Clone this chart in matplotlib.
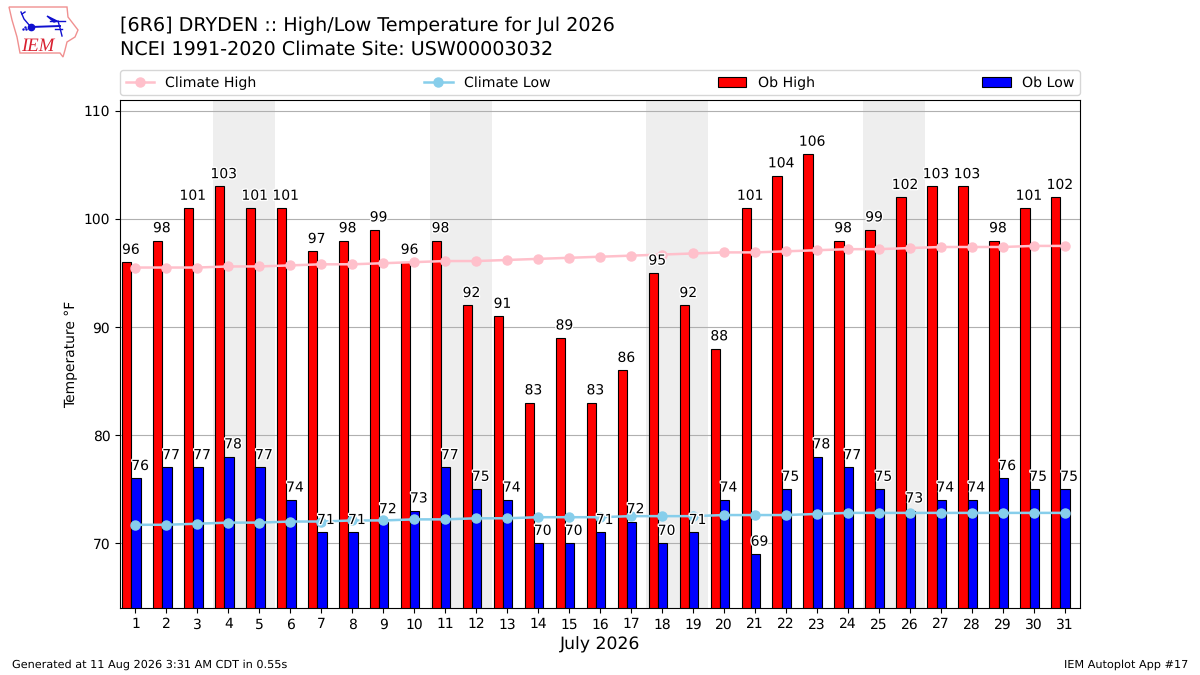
import numpy as np
import matplotlib
matplotlib.use("Agg")
import matplotlib.pyplot as plt
import matplotlib.patheffects as pe
from matplotlib.patches import Polygon

plt.rcParams["text.hinting"] = "none"

days = np.arange(1, 32)
ob_high = [96, 98, 101, 103, 101, 101, 97, 98, 99, 96, 98, 92, 91, 83, 89, 83,
           86, 95, 92, 88, 101, 104, 106, 98, 99, 102, 103, 103, 98, 101, 102]
ob_low = [76, 77, 77, 78, 77, 74, 71, 71, 72, 73, 77, 75, 74, 70, 70, 71,
          72, 70, 71, 74, 69, 75, 78, 77, 75, 73, 74, 74, 76, 75, 75]
climate_high = [95.5, 95.5, 95.5, 95.6, 95.6, 95.7, 95.8, 95.8, 95.9, 96.0, 96.1,
                96.1, 96.2, 96.3, 96.4, 96.5, 96.6, 96.7, 96.8, 96.9, 96.9, 97.0,
                97.1, 97.2, 97.2, 97.3, 97.4, 97.4, 97.4, 97.5, 97.5]
climate_low = [71.7, 71.7, 71.8, 71.9, 71.9, 72.0, 72.0, 72.1, 72.1, 72.2, 72.2,
               72.3, 72.3, 72.4, 72.4, 72.4, 72.5, 72.5, 72.5, 72.6, 72.6, 72.6,
               72.7, 72.8, 72.8, 72.8, 72.8, 72.8, 72.8, 72.8, 72.8]
weekends = [(4, 5), (11, 12), (18, 19), (25, 26)]

title_lines = ["[6R6] DRYDEN :: High/Low Temperature for Jul 2026",
               "NCEI 1991-2020 Climate Site: USW00003032"]
footer_left = "Generated at 11 Aug 2026 3:31 AM CDT in 0.55s"
footer_right = "IEM Autoplot App #17"

fig = plt.figure(figsize=(12, 6.75), dpi=100)
ax = fig.add_axes([0.1, 1 - 608 / 675, 0.8, 508 / 675])

# выходные серым
for d0, d1 in weekends:
    ax.axvspan(d0 - 0.5, d1 + 0.5, color="#eeeeee", lw=0, zorder=0)

ax.grid(True, axis="y", color="#b0b0b0", lw=0.8, zorder=1)
ax.set_axisbelow(True)

ax.bar(days - 0.43, ob_high, width=0.3, align="edge", color="red", edgecolor="k",
       lw=0.8, label="Ob High", zorder=2)
ax.bar(days - 0.13, ob_low, width=0.3, align="edge", color="blue", edgecolor="k",
       lw=0.8, label="Ob Low", zorder=2)
ax.plot(days, climate_high, color="pink", marker="o", ms=6.5, lw=1.8,
        label="Climate High", zorder=3)
ax.plot(days, climate_low, color="skyblue", marker="o", ms=6.5, lw=1.8,
        label="Climate Low", zorder=3)

# подписи значений над столбиками
stroke = [pe.withStroke(linewidth=2, foreground="white")]
for d, hi, lo in zip(days, ob_high, ob_low):
    ax.text(d - 0.15, hi + 0.5, str(hi), ha="center", va="bottom", fontsize=10,
            color="k", path_effects=stroke, zorder=4)
    ax.text(d + 0.15, lo + 0.5, str(lo), ha="center", va="bottom", fontsize=10,
            color="k", path_effects=stroke, zorder=4)

ax.set_xlim(0.5, 31.5)
ax.set_ylim(64, 111)
ax.set_xticks(days)
ax.set_yticks([70, 80, 90, 100, 110])
ax.set_ylabel("Temperature °F")
ax.set_xlabel("July 2026", fontsize=12.4, labelpad=3.5)

ax.legend(loc="lower left", bbox_to_anchor=(0, 1.0095, 1, 0.05), mode="expand",
          ncol=4, borderaxespad=0, fontsize=10.2)

fig.text(120 / 1200, 1 - 26 / 675, title_lines[0], fontsize=13.75, va="center")
fig.text(120 / 1200, 1 - 49 / 675, title_lines[1], fontsize=13.75, va="center")
fig.text(12 / 1200, 1 - 665 / 675, footer_left, fontsize=8.13, va="center")
fig.text(1188 / 1200, 1 - 665 / 675, footer_right, fontsize=8.13, va="center", ha="right")

# логотип IEM, примерно
logo = fig.add_axes([0, 1 - 60 / 675, 85 / 1200, 60 / 675])
logo.set_xlim(0, 85)
logo.set_ylim(60, 0)
logo.axis("off")
outline = [(9, 7), (67, 7), (68, 17), (78, 30), (75, 37), (67, 42), (65, 50),
           (63, 57), (60, 53), (20, 53), (17, 37), (12, 20)]
logo.add_patch(Polygon(outline, closed=True, fill=False, edgecolor="#f09090", lw=1))
blue = "#1010d0"
logo.plot([31, 60], [27, 26], color=blue, lw=1.4)
logo.plot([50, 65], [21, 21], color=blue, lw=1)
logo.plot([21, 24, 30], [12, 19, 26], color=blue, lw=1)
logo.plot([22, 25], [14, 12], color=blue, lw=1)
logo.plot([58, 60, 62], [21, 28, 36], color=blue, lw=1)
logo.plot([55, 62], [29, 29], color=blue, lw=1)
logo.plot([31], [27], "o", color=blue, ms=4.5)
logo.plot([23, 25, 26], [29, 27, 29], ".", color=blue, ms=1.5)
logo.fill([47, 57, 54], [16, 21, 22], color=blue)
logo.text(21, 46, "IEM", color="#d82030", fontsize=13.5, style="italic",
          family="Liberation Serif", va="center")

fig.savefig("out.png", dpi=100)
